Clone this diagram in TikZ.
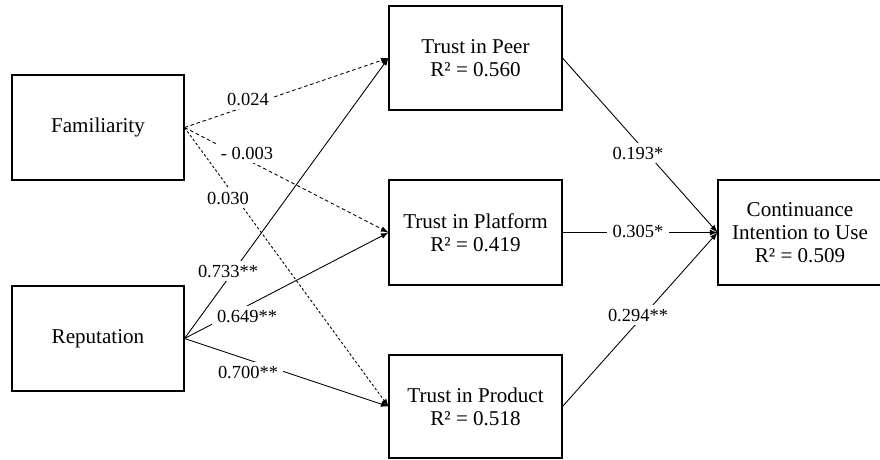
\documentclass[tikz,border=0pt]{standalone}
\usepackage{fontspec}
\setmainfont{Liberation Serif}
\usepackage{tikz}
\usetikzlibrary{arrows}

\begin{document}
\begin{tikzpicture}[x = .02cm, y = -.02cm,
  box/.style = {draw, line width = .6pt, minimum width = 3.44cm, minimum height = 2.1cm, align = center, font = \fontsize{12}{13}\selectfont},
  lbl/.style = {fill = white, inner xsep = 3pt, inner ysep = 2pt, font = \fontsize{10.5}{12}\selectfont},
  solidarrow/.style = {-latex, line width = .5pt},
  dasharrow/.style = {-latex, line width = .5pt, dash pattern = on 2pt off 1.6pt}]
\useasboundingbox (0,0) rectangle (880,460);

% constructs
\node[box] (fam) at (98,127.5) {Familiarity};
\node[box] (rep) at (98,338.5) {Reputation};
\node[box, minimum width = 3.46cm, minimum height = 2.08cm] (peer) at (475.5,58) {Trust in Peer\\R² = 0.560};
\node[box, minimum width = 3.46cm] (plat) at (475.5,232.5) {Trust in Platform\\R² = 0.419};
\node[box, minimum width = 3.46cm, minimum height = 2.06cm] (prod) at (475.5,406.5) {Trust in Product\\R² = 0.518};
\node[box, minimum width = 3.28cm] (cont) at (800,232.5) {Continuance\\Intention to Use\\R² = 0.509};

% paths
\draw[dasharrow] (fam.east) -- (peer.west);
\draw[dasharrow] (fam.east) -- (plat.west);
\draw[dasharrow, dash pattern = on 1.5pt off 1.2pt] (fam.east) -- (prod.west);
\draw[solidarrow] (rep.east) -- (peer.west);
\draw[solidarrow] (rep.east) -- (plat.west);
\draw[solidarrow] (rep.east) -- (prod.west);
\draw[solidarrow] (peer.east) -- (cont.west);
\draw[solidarrow] (plat.east) -- (cont.west);
\draw[solidarrow] (prod.east) -- (cont.west);

% coefficients
\node[lbl] (fampeer) at (248,99) {0.024};
\node[lbl] (famplat) at (247,153) {- 0.003};
\node[lbl] (famprod) at (228,198) {0.030};
\node[lbl] (reppeer) at (228,271) {0.733**};
\node[lbl] (repplat) at (247,316) {0.649**};
\node[lbl] (repprod) at (248,372) {0.700**};
\node[lbl] (peercont) at (638,153) {0.193*};
\node[lbl] (platcont) at (638,231) {0.305*};
\node[lbl] (prodcont) at (638,315) {0.294**};
\end{tikzpicture}
\end{document}
